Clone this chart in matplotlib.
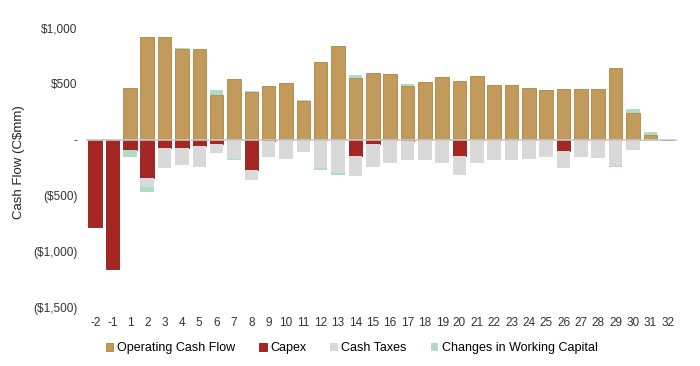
import matplotlib
matplotlib.use("Agg")
from matplotlib import pyplot as plt
from matplotlib.ticker import FixedLocator
import numpy as np

plt.rcParams['font.family'] = ['Liberation Sans', 'DejaVu Sans']

# Project years
years = ["-2", "-1"] + [str(i) for i in range(1, 33)]

# C$mm per year
operating_cash_flow = [0, 0, 460, 920, 920, 810, 810, 405, 545, 430, 482, 509,
                       345, 694, 839, 555, 598, 586, 485, 515, 565, 530, 574,
                       490, 488, 464, 446, 455, 458, 455, 646, 240, 45, 0]
capex = [-785, -1160, -88, -342, -75, -70, -60, -40, -3, -268, -10, 0,
         0, -5, -5, -150, -40, 0, -15, 0, 0, -150, -3,
         0, 0, 0, 0, -98, 0, 0, 0, 0, 0, 0]
cash_taxes = [0, 0, -5, -84, -178, -160, -180, -75, -172, -95, -148, -173,
              -113, -245, -292, -178, -207, -211, -170, -182, -211, -168, -208,
              -179, -179, -176, -158, -155, -158, -167, -238, -89, -10, 0]
working_capital = [0, 0, -60, -44, 0, 10, 0, 40, -8, 10, 0, 0,
                   15, -22, -20, 25, 0, 0, 12, 0, 0, 0, 0,
                   4, 0, 0, 0, 0, 0, 0, -10, 37, 25, 0]

c_ocf = "#C29A5B"
c_capex = "#A52623"
c_tax = "#D9D9D9"
c_wc = "#ACDDC8"

fig = plt.figure(figsize=(7, 3.66), dpi=100)
ax = fig.add_axes([0.1224, 0.161, 0.845, 0.762])

x = np.arange(len(years))
w = 0.78

ocf = np.array(operating_cash_flow, dtype=float)
cap = np.array(capex, dtype=float)
tax = np.array(cash_taxes, dtype=float)
wc = np.array(working_capital, dtype=float)

# positive stack: OCF then positive working capital on top
ax.bar(x, ocf, w, color=c_ocf, edgecolor="#B08440", linewidth=0.6,
       label="Operating Cash Flow", zorder=2)
wc_pos = np.where(wc > 0, wc, 0)
ax.bar(x, wc_pos, w, bottom=ocf, color=c_wc, linewidth=0, zorder=2)

# negative stack: capex, taxes, negative working capital
ax.bar(x, cap, w, color=c_capex, edgecolor="#8A1A18", linewidth=0.6,
       label="Capex", zorder=2)
ax.bar(x, tax, w, bottom=cap, color=c_tax, linewidth=0,
       label="Cash Taxes", zorder=2)
wc_neg = np.where(wc < 0, wc, 0)
ax.bar(x, wc_neg, w, bottom=cap + tax, color=c_wc, linewidth=0,
       label="Changes in Working Capital", zorder=2)

ax.axhline(0, color="#C8C8C8", linewidth=1.2, zorder=3)

ax.set_xlim(-0.55, len(years) - 0.45)
ax.set_ylim(-1500, 1000)
ax.yaxis.set_major_locator(FixedLocator([-1500, -1000, -500, 0, 500, 1000]))
ax.set_yticklabels(["($1,500)", "($1,000)", "($500)", "-", "$500", "$1,000"])
ax.set_xticks(x)
ax.set_xticklabels(years)
ax.tick_params(axis="both", length=0, labelsize=8.5, colors="#333333")
ax.tick_params(axis="y", pad=6)
ax.tick_params(axis="x", pad=7)
for s in ax.spines.values():
    s.set_visible(False)

ax.set_ylabel("Cash Flow (C$mm)", fontsize=9.5, color="#222222")
ax.yaxis.set_label_coords(-0.103, 0.52)

ax.legend(loc="upper center", bbox_to_anchor=(0.45, -0.085), ncol=4,
          frameon=False, fontsize=9, handlelength=0.6, handleheight=0.6,
          handletextpad=0.3, columnspacing=1.9)

fig.savefig("out.png", dpi=100)
